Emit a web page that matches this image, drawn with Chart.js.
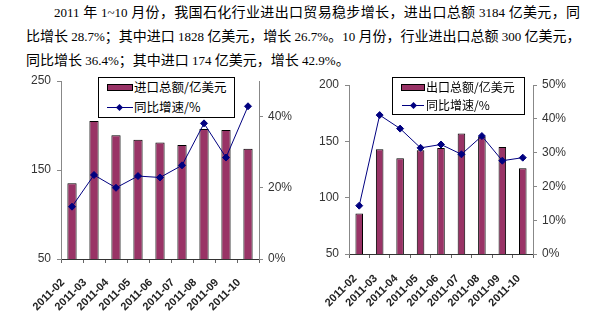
<!DOCTYPE html>
<html>
<head>
  <meta charset="utf-8">
  <title>石化行业进出口贸易</title>
  <script src="https://cdn.jsdelivr.net/npm/chart.js@4.4.0/dist/chart.umd.min.js"></script>
  <style>
    body {
      margin: 0;
      width: 594px;
      height: 325px;
      position: relative;
      overflow: hidden;
      background: #fff;
    }
    .para {
      position: absolute;
      left: 26px;
      top: 0;
      width: 554px;
      font-family: "Noto Sans CJK SC", sans-serif;
      font-size: 14px;
      line-height: 22px;
      color: #000;
    }
    .para div {
      white-space: nowrap;
      text-align: justify;
      text-align-last: justify;
    }
    .para .first { text-indent: 28px; }
    .para .last { text-align-last: left; }
    .para .l {
      font-family: "Liberation Serif", serif;
      font-size: 13px;
    }
    canvas { position: absolute; }
    .legend {
      position: absolute;
      box-sizing: border-box;
      border: 1px solid #000;
      background: #fff;
      font-family: "Noto Sans CJK SC", sans-serif;
      color: #000;
    }
    .legend .txt { position: absolute; line-height: 16px; white-space: nowrap; }
    .legend .sw {
      position: absolute;
      height: 5px;
      background: #993366;
      border: 1px solid #000;
    }
    .legend .ln { position: absolute; height: 1px; background: #000080; }
    .legend .dm {
      position: absolute;
      width: 5px;
      height: 5px;
      background: #000080;
      transform: rotate(45deg);
    }
  </style>
</head>
<body>
  <div class="para">
    <div class="first"><span class="l">2011 </span>年<span class="l"> 1~10 </span>月份，我国石化行业进出口贸易稳步增长，进出口总额<span class="l"> 3184 </span>亿美元，同</div>
    <div>比增长<span class="l"> 28.7%</span>；其中进口<span class="l"> 1828 </span>亿美元，增长<span class="l"> 26.7%</span>。<span class="l">10 </span>月份，行业进出口总额<span class="l"> 300 </span>亿美元，</div>
    <div class="last">同比增长<span class="l"> 36.4%</span>；其中进口<span class="l"> 174 </span>亿美元，增长<span class="l"> 42.9%</span>。</div>
  </div>

  <canvas id="importChart" width="300" height="263" style="left:0;top:62px"></canvas>
  <canvas id="exportChart" width="294" height="263" style="left:300px;top:62px"></canvas>

  <div class="legend" style="left:98px;top:77px;width:137px;height:41px;font-size:12.5px">
    <div class="sw" style="left:8px;top:6px;width:24px"></div>
    <div class="txt" style="left:35px;top:1px">进口总额/亿美元</div>
    <div class="ln" style="left:8px;top:29px;width:26px"></div>
    <div class="dm" style="left:18px;top:27px"></div>
    <div class="txt" style="left:35px;top:21px">同比增速/%</div>
  </div>
  <div class="legend" style="left:392px;top:77px;width:133px;height:38px;font-size:12px">
    <div class="sw" style="left:8px;top:6px;width:22px"></div>
    <div class="txt" style="left:33px;top:1px">出口总额/亿美元</div>
    <div class="ln" style="left:9px;top:27px;width:22px"></div>
    <div class="dm" style="left:18px;top:25px"></div>
    <div class="txt" style="left:33px;top:19px">同比增速/%</div>
  </div>

<script>
const months = ['2011-02', '2011-03', '2011-04', '2011-05', '2011-06', '2011-07', '2011-08', '2011-09', '2011-10'];

// 进口总额 (亿美元) and 同比增速 (%)
const importValues = [135, 205, 189, 184, 181, 178, 196, 195, 174];
const importGrowth = [14.7, 23.6, 20.0, 23.3, 22.9, 26.3, 38.1, 28.5, 42.9];

// 出口总额 (亿美元) and 同比增速 (%)
const exportValues = [86, 143, 135, 142, 144, 157, 154, 145, 126];
const exportGrowth = [14.3, 41.1, 37.1, 31.4, 32.4, 29.5, 34.9, 27.6, 28.5];

const tickFont = { family: 'Liberation Sans, Arial, sans-serif', size: 12 };

function makeChart(id, bars, growth, o) {
  const ctx = document.getElementById(id).getContext('2d');
  return new Chart(ctx, {
    type: 'bar',
    data: {
      labels: months,
      datasets: [
        {
          type: 'line',
          data: growth,
          yAxisID: 'y1',
          borderColor: '#000080',
          borderWidth: 1,
          pointStyle: 'rectRot',
          pointRadius: 3.5,
          pointBackgroundColor: '#000080',
          pointBorderColor: '#000080',
          tension: 0,
          order: 1
        },
        {
          data: bars,
          yAxisID: 'y',
          backgroundColor: '#993366',
          borderColor: '#000',
          borderWidth: 1,
          barPercentage: o.barPct,
          categoryPercentage: 1,
          order: 2
        }
      ]
    },
    options: {
      responsive: false,
      animation: false,
      layout: { padding: { top: o.top, left: 0, right: 0, bottom: 0 } },
      plugins: { legend: { display: false }, tooltip: { enabled: false } },
      scales: {
        x: {
          offset: true,
          grid: { offset: true, drawOnChartArea: false, tickLength: 4, color: '#666' },
          border: { color: '#333' },
          ticks: {
            autoSkip: false,
            maxRotation: 45,
            minRotation: 45,
            padding: o.xPad,
            labelOffset: o.xShift,
            color: '#222',
            font: { family: 'Liberation Sans, Arial, sans-serif', size: 11, weight: 'bold' }
          },
          afterFit: s => { s.height = o.xh; }
        },
        y: {
          position: 'left',
          min: o.min,
          max: o.max,
          ticks: { stepSize: o.step, color: '#333', font: tickFont, padding: 6 },
          grid: { drawOnChartArea: false, tickLength: 4, color: '#888' },
          border: { color: '#888' },
          afterFit: s => { s.width = o.lw; }
        },
        y1: {
          position: 'right',
          min: 0,
          max: 50,
          ticks: { stepSize: 10, color: '#333', font: tickFont, padding: 5, callback: v => v + '%' },
          afterBuildTicks: s => { s.ticks = s.ticks.filter(t => t.value % o.pctStep === 0); },
          grid: { drawOnChartArea: false, tickLength: 4, color: '#888' },
          border: { color: '#888' },
          afterFit: s => { s.width = o.rw; }
        }
      }
    }
  });
}

makeChart('importChart', importValues, importGrowth,
  { top: 19, xh: 66, lw: 61, rw: 41, min: 50, max: 250, step: 100, pctStep: 20, barPct: 0.42, xPad: 13, xShift: -9 });

makeChart('exportChart', exportValues, exportGrowth,
  { top: 23, xh: 71, lw: 49, rw: 61, min: 50, max: 200, step: 50, pctStep: 10, barPct: 0.37, xPad: 14, xShift: -4 });
</script>
</body>
</html>
